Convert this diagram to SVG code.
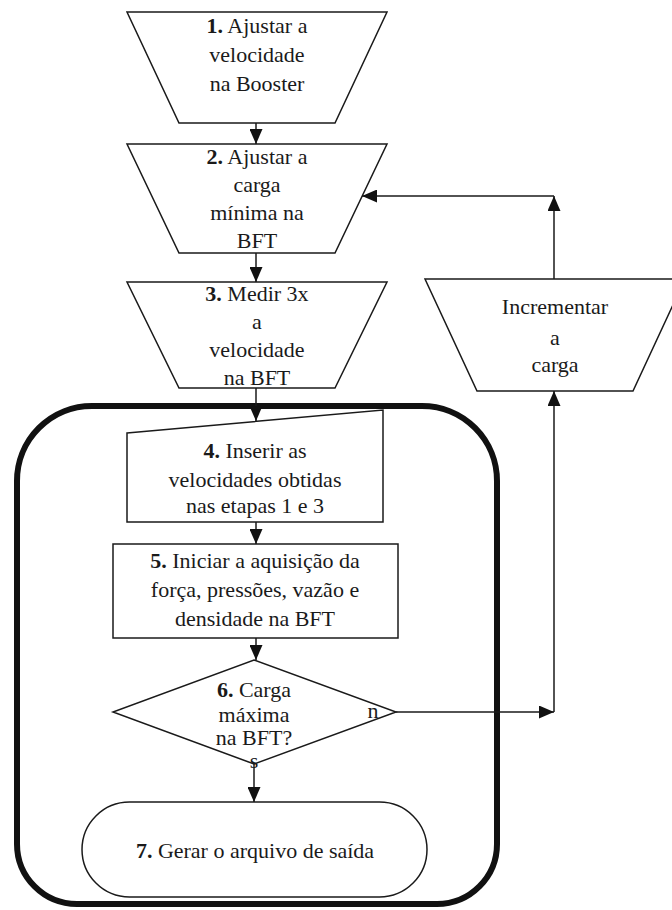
<svg xmlns="http://www.w3.org/2000/svg" width="672" height="910" viewBox="0 0 672 910">
<style>
.s{fill:#fff;stroke:#1a1a1a;stroke-width:1.5}
.b{font-weight:bold}
.c{stroke:#1a1a1a;stroke-width:1.5;fill:none}
</style>
<defs>
<marker id="ah" viewBox="0 0 15 13" refX="15" refY="6.5" markerWidth="15" markerHeight="13" markerUnits="userSpaceOnUse" orient="auto">
<path d="M0,0 L15,6.5 L0,13 z" fill="#111"/>
</marker>
</defs>
<rect width="672" height="910" fill="#fff"/>
<g id="container">
<path d="M92 406 H422 A75 75 0 0 1 497 481 V844 A60 60 0 0 1 437 904 H77 A60 60 0 0 1 17 844 V481 A75 75 0 0 1 92 406 Z" fill="none" stroke="#111" stroke-width="6"/>
</g>
<g font-family="Liberation Serif, DejaVu Serif, serif" font-size="22" fill="#1a1a1a" text-anchor="middle">
<g id="n1">
<polygon class="s" points="127,12 387,12 335,123 179,123"/>
<text x="257" y="33"><tspan class="b">1.</tspan> Ajustar a</text>
<text x="257" y="62">velocidade</text>
<text x="257" y="91">na Booster</text>
</g>
<g id="n2">
<polygon class="s" points="127,144 387,144 335,253 179,253"/>
<text x="257" y="164"><tspan class="b">2.</tspan> Ajustar a</text>
<text x="257" y="192">carga</text>
<text x="257" y="220">mínima na</text>
<text x="257" y="248">BFT</text>
</g>
<g id="n3">
<polygon class="s" points="127,282 387,282 335,388 179,388"/>
<text x="257" y="301"><tspan class="b">3.</tspan> Medir 3x</text>
<text x="257" y="329">a</text>
<text x="257" y="357">velocidade</text>
<text x="257" y="385">na BFT</text>
</g>
<g id="n_inc">
<polygon class="s" points="425,279 685,279 633,391 477,391"/>
<text x="555" y="314">Incrementar</text>
<text x="555" y="345">a</text>
<text x="555" y="372">carga</text>
</g>
<g id="n4">
<polygon class="s" points="127,433 383,410 383,522 127,522"/>
<text x="255" y="458"><tspan class="b">4.</tspan> Inserir as</text>
<text x="255" y="487">velocidades obtidas</text>
<text x="255" y="513">nas etapas 1 e 3</text>
</g>
<g id="n5">
<rect class="s" x="113" y="544" width="285" height="94"/>
<text x="255" y="568"><tspan class="b">5.</tspan> Iniciar a aquisição da</text>
<text x="255" y="597">força, pressões, vazão e</text>
<text x="255" y="626">densidade na BFT</text>
</g>
<g id="n6">
<polygon class="s" points="254,660 396,712 254,764 113,712"/>
<text x="254" y="697"><tspan class="b">6.</tspan> Carga</text>
<text x="254" y="722">máxima</text>
<text x="254" y="745">na BFT?</text>
<text x="373" y="718">n</text>
<text x="254" y="768">s</text>
</g>
<g id="n7">
<rect class="s" x="82" y="802" width="345" height="95" rx="47.5" ry="47.5"/>
<text x="255" y="858"><tspan class="b">7.</tspan> Gerar o arquivo de saída</text>
</g>
</g>
<g id="connectors">
<line class="c" x1="256" y1="123" x2="256" y2="144" marker-end="url(#ah)"/>
<line class="c" x1="256" y1="253" x2="256" y2="282" marker-end="url(#ah)"/>
<line class="c" x1="256" y1="388" x2="256" y2="421" marker-end="url(#ah)"/>
<line class="c" x1="256" y1="522" x2="256" y2="544" marker-end="url(#ah)"/>
<line class="c" x1="256" y1="638" x2="256" y2="660" marker-end="url(#ah)"/>
<line class="c" x1="254" y1="764" x2="254" y2="802" marker-end="url(#ah)"/>
<line class="c" x1="396" y1="712" x2="554" y2="712" marker-end="url(#ah)"/>
<line class="c" x1="554" y1="712" x2="554" y2="391" marker-end="url(#ah)"/>
<line class="c" x1="554" y1="279" x2="554" y2="196" marker-end="url(#ah)"/>
<line class="c" x1="554" y1="196" x2="362" y2="196" marker-end="url(#ah)"/>
</g>
</svg>
